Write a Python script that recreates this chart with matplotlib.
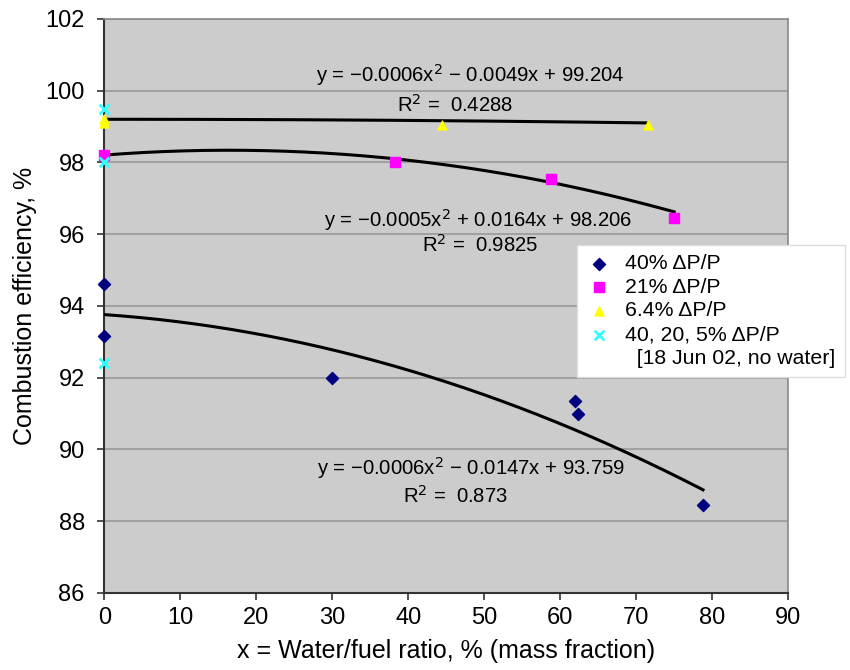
import numpy as np
import matplotlib.pyplot as plt
from matplotlib.lines import Line2D

plt.rcParams['font.family'] = ['Liberation Sans', 'DejaVu Sans']
plt.rcParams['xtick.labelsize'] = 17
plt.rcParams['ytick.labelsize'] = 17

# Data
x_40 = [0, 0, 30, 62, 62.3, 78.8]
y_40 = [94.6, 93.15, 92.0, 91.35, 91.0, 88.45]

x_21 = [0, 38.3, 58.8, 75]
y_21 = [98.2, 98.0, 97.55, 96.45]

x_64 = [0, 0, 44.5, 71.5]
y_64 = [99.1, 99.2, 99.05, 99.05]

x_nowater = [0, 0, 0]
y_nowater = [99.5, 98.0, 92.4]

# trend line coefficients (a, b, c) and x range
trend_64 = [-0.00002, 0.0, 99.204]
trend_21 = [-0.0005, 0.0164, 98.206]
trend_40 = [-0.0006, -0.0147, 93.759]
range_64 = (0, 71.5)
range_21 = (0, 75)
range_40 = (0, 78.8)

eq_64 = 'y = \u22120.0006x$^2$ \u2212 0.0049x + 99.204'
eq_21 = 'y = \u22120.0005x$^2$ + 0.0164x + 98.206'
eq_40 = 'y = \u22120.0006x$^2$ \u2212 0.0147x + 93.759'
r2_64 = 'R$^2$ =  0.4288'
r2_21 = 'R$^2$ =  0.9825'
r2_40 = 'R$^2$ =  0.873'

fig = plt.figure(figsize=(8.5, 6.7), dpi=100)
ax = fig.add_axes([0.1227, 0.115, 0.8045, 0.8567])
ax.set_facecolor('#cccccc')

# trend lines
for coef, (x0, x1) in [(trend_64, range_64), (trend_21, range_21), (trend_40, range_40)]:
    xs = np.linspace(x0, x1, 200)
    ax.plot(xs, np.polyval(coef, xs), color='black', lw=2.2, zorder=3)

ax.scatter(x_40, y_40, marker='D', s=38, color='#00007f', label='40% \u0394P/P',
           zorder=4, clip_on=False)
ax.scatter(x_21, y_21, marker='s', s=42, color='#ff00ff', label='21% \u0394P/P',
           zorder=4, clip_on=False)
ax.scatter(x_64, y_64, marker='^', s=42, color='#ffff00', label='6.4% \u0394P/P',
           zorder=4, clip_on=False)
ax.scatter(x_nowater, y_nowater, marker='x', s=50, color='#33ffff', linewidths=2,
           label='40, 20, 5% \u0394P/P', zorder=5, clip_on=False)

ax.set_xlim(0, 90)
ax.set_ylim(86, 102)
ax.set_xticks(np.arange(0, 91, 10))
ax.set_yticks(np.arange(86, 103, 2))
ax.yaxis.grid(True, color='#999999', lw=1.2)
ax.set_axisbelow(True)

for side in ['top', 'right']:
    ax.spines[side].set_color('#888888')
    ax.spines[side].set_linewidth(1.2)
for side in ['left', 'bottom']:
    ax.spines[side].set_color('#333333')
    ax.spines[side].set_linewidth(1.5)

ax.tick_params(axis='both', which='major', labelsize=17, length=5, width=1.2,
               color='#333333')
ax.tick_params(axis='y', pad=9)
ax.tick_params(axis='x', pad=5)
ax.set_xlabel('x = Water/fuel ratio, % (mass fraction)', fontsize=18, labelpad=7)
ax.set_ylabel('Combustion efficiency, %', fontsize=18, labelpad=6)

txt = dict(fontsize=14.6, ha='center', va='center', zorder=6)
ax.text(48.2, 100.44, eq_64, **txt)
ax.text(46.2, 99.60, r2_64, **txt)
ax.text(49.2, 96.40, eq_21, **txt)
ax.text(49.5, 95.70, r2_21, **txt)
ax.text(48.2, 89.48, eq_40, **txt)
ax.text(46.2, 88.70, r2_40, **txt)

# legend, with the note on its own line under the last entry
handles, labels = ax.get_legend_handles_labels()
handles.append(Line2D([], [], linestyle='none'))
labels.append('  [18 Jun 02, no water]')
leg = ax.legend(handles, labels, loc='upper left', bbox_to_anchor=(0.6915, 0.607),
                fontsize=15.3, frameon=True, fancybox=False, edgecolor='#dddddd',
                framealpha=1, handletextpad=0.6, borderpad=0.45, labelspacing=0.22,
                handlelength=1.2, scatterpoints=1, borderaxespad=0)
leg.set_zorder(10)

fig.savefig('out.png', dpi=100)
